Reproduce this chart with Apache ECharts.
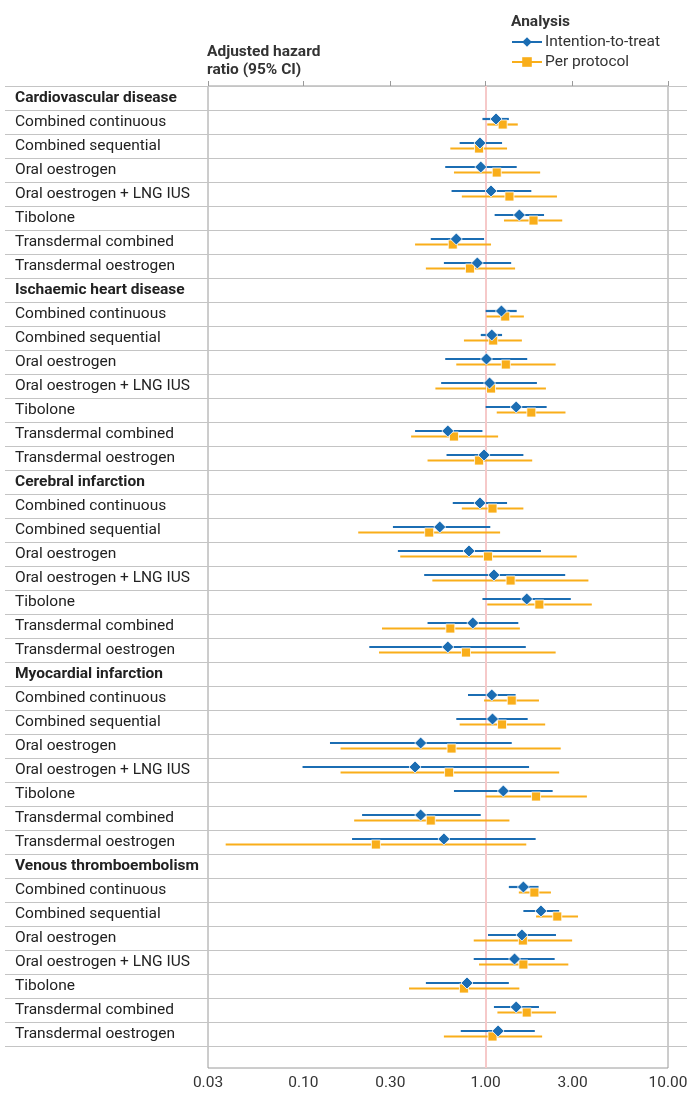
<!DOCTYPE html>
<html><head><meta charset="utf-8">
<script src="https://cdn.jsdelivr.net/npm/echarts@6/dist/echarts.min.js"></script>
<style>html,body{margin:0;padding:0;background:#fff}#c{width:699px;height:1095px}</style>
</head><body><div id="c"></div>
<script>
const groups = ['Cardiovascular disease','Ischaemic heart disease','Cerebral infarction','Myocardial infarction','Venous thromboembolism'];
const treatments = ['Combined continuous','Combined sequential','Oral oestrogen','Oral oestrogen + LNG IUS','Tibolone','Transdermal combined','Transdermal oestrogen'];
// Intention-to-treat (blue diamonds), 7 values per outcome group, in group order
const ittEst = [1.14,0.93,0.94,1.07,1.53,0.69,0.90, 1.22,1.08,1.01,1.05,1.47,0.62,0.98, 0.93,0.56,0.81,1.11,1.68,0.85,0.62, 1.08,1.09,0.44,0.41,1.25,0.44,0.59, 1.61,2.01,1.58,1.44,0.79,1.47,1.17];
const ittLo  = [0.96,0.72,0.60,0.65,1.12,0.50,0.59, 1.00,0.94,0.60,0.57,1.00,0.41,0.61, 0.66,0.31,0.33,0.46,0.96,0.48,0.23, 0.80,0.69,0.14,0.099,0.67,0.21,0.185, 1.34,1.61,1.03,0.86,0.47,1.11,0.73];
const ittHi  = [1.34,1.23,1.48,1.78,2.09,0.98,1.38, 1.48,1.23,1.69,1.91,2.16,0.96,1.61, 1.31,1.06,2.01,2.73,2.93,1.51,1.66, 1.46,1.70,1.39,1.73,2.33,0.94,1.88, 1.95,2.53,2.43,2.39,1.34,1.96,1.86];
// Per protocol (orange squares)
const ppEst = [1.24,0.92,1.15,1.35,1.83,0.66,0.82, 1.28,1.10,1.29,1.07,1.78,0.67,0.92, 1.09,0.49,1.03,1.37,1.97,0.64,0.78, 1.39,1.23,0.65,0.63,1.89,0.50,0.25, 1.85,2.47,1.60,1.61,0.76,1.68,1.09];
const ppLo  = [1.02,0.64,0.67,0.74,1.26,0.41,0.47, 1.01,0.76,0.69,0.53,1.15,0.39,0.48, 0.74,0.20,0.34,0.51,1.02,0.27,0.26, 0.98,0.72,0.16,0.16,1.00,0.19,0.0375, 1.52,1.89,0.86,0.92,0.38,1.16,0.59];
const ppHi  = [1.50,1.31,1.99,2.46,2.63,1.07,1.45, 1.62,1.58,2.42,2.14,2.74,1.17,1.80, 1.61,1.20,3.16,3.66,3.82,1.54,2.42, 1.96,2.12,2.58,2.53,3.59,1.35,1.67, 2.28,3.21,2.98,2.84,1.53,2.43,2.04];
const xTicks = [0.03,0.1,0.3,1,3,10];
const seriesNames = ['Intention-to-treat','Per protocol'];

const BLUE = '#1b6db3', ORANGE = '#f9ae1a';
const ROWH = 24, TOP = 86, BOTTOM_Y = 1068;

// rows: header + treatments per group
const rows = [], headerIdx = new Set(), rowOf = [];
groups.forEach((g, gi) => {
  headerIdx.add(rows.length); rows.push(g);
  treatments.forEach(t => { rowOf.push(rows.length); rows.push(t); });
});

function barData(lo, hi, off) {
  return lo.map((v, i) => [v, hi[i], rowOf[i] + 0.5 + off]);
}
function ptData(est, off) {
  return est.map((v, i) => [v, rowOf[i] + 0.5 + off]);
}
function barSeries(name, lo, hi, off, color) {
  return {
    type: 'custom', name, xAxisIndex: 1, yAxisIndex: 1, z: 3,
    data: barData(lo, hi, off),
    encode: { x: [0, 1], y: 2 },
    renderItem: (params, api) => {
      const a = api.coord([api.value(0), api.value(2)]);
      const b = api.coord([api.value(1), api.value(2)]);
      return { type: 'line', shape: { x1: a[0], y1: a[1], x2: b[0], y2: b[1] },
        style: { stroke: color, lineWidth: 2.2 } };
    },
    silent: true
  };
}
const OFF_ITT = -3 / ROWH, OFF_PP = 2.5 / ROWH;
const yMax = (BOTTOM_Y - TOP) / ROWH;
const FONT = 'Roboto';
const FS = 15.5;

const chart = echarts.init(document.getElementById('c'), null, { renderer: 'canvas' });
chart.setOption({
  animation: false,
  backgroundColor: '#fff',
  textStyle: { fontFamily: FONT },
  title: [
    { text: 'Adjusted hazard\nratio (95% CI)', left: 207, top: 43, padding: 0,
      textStyle: { fontFamily: FONT, fontSize: FS, fontWeight: 'bold', color: '#333', lineHeight: 18 } },
    { text: 'Analysis', left: 511, top: 14, padding: 0,
      textStyle: { fontFamily: FONT, fontSize: FS, fontWeight: 'bold', color: '#333' } }
  ],
  legend: {
    data: seriesNames, orient: 'vertical', left: 511, top: 34, itemGap: 4, padding: 0,
    itemWidth: 30, itemHeight: 12,
    textStyle: { fontFamily: FONT, fontSize: FS, color: '#333', padding: [0, 0, 0, -2] }
  },
  grid: [
    { left: 5, right: 12, top: TOP, height: ROWH * rows.length, show: false },
    { left: 208, right: 31, top: TOP, bottom: 1095 - BOTTOM_Y, show: true,
      borderColor: '#9a9a9a', borderWidth: 1, backgroundColor: 'transparent' }
  ],
  xAxis: [
    { gridIndex: 0, type: 'value', show: false, min: 0, max: 1 },
    { gridIndex: 1, type: 'log', logBase: 10, min: 0.03, max: 10,
      axisLine: { show: false },
      axisTick: { show: true, inside: true, length: 5, customValues: xTicks, lineStyle: { color: '#9a9a9a' } },
      axisLabel: { customValues: xTicks, formatter: v => Number(v).toFixed(2), fontFamily: FONT,
        fontSize: FS, color: '#333', margin: 7 },
      splitLine: { show: false } }
  ],
  yAxis: [
    { gridIndex: 0, type: 'category', inverse: true, data: rows.map((r, i) => String(i)),
      axisLine: { show: false }, axisTick: { show: false },
      splitLine: { show: true, lineStyle: { color: '#c4c4c4', width: 1 } },
      axisLabel: { inside: true, margin: 10, interval: 0,
        formatter: (v) => { const i = +v; return (headerIdx.has(i) ? '{h|' : '{n|') + rows[i] + '}'; },
        rich: {
          h: { fontFamily: FONT, fontSize: FS, fontWeight: 'bold', color: '#222' },
          n: { fontFamily: FONT, fontSize: FS, color: '#222' }
        } } },
    { gridIndex: 1, type: 'value', inverse: true, min: 0, max: yMax, show: false }
  ],
  series: [
    Object.assign(barSeries('ittBars', ittLo, ittHi, OFF_ITT, BLUE), {
      markLine: { silent: true, symbol: 'none', z: 1, label: { show: false },
        lineStyle: { color: '#f6c9c9', width: 2, type: 'solid' }, data: [{ xAxis: 1 }] }
    }),
    barSeries('ppBars', ppLo, ppHi, OFF_PP, ORANGE),
    { type: 'scatter', name: 'ppPts', xAxisIndex: 1, yAxisIndex: 1, z: 5, symbol: 'rect', symbolSize: 9,
      itemStyle: { color: ORANGE, borderColor: '#fff', borderWidth: 0.8, opacity: 1 }, data: ptData(ppEst, OFF_PP) },
    { type: 'scatter', name: 'ittPts', xAxisIndex: 1, yAxisIndex: 1, z: 6, symbol: 'diamond', symbolSize: 12,
      itemStyle: { color: BLUE, borderColor: '#fff', borderWidth: 0.8, opacity: 1 }, data: ptData(ittEst, OFF_ITT) },
    // legend-only line series
    { type: 'line', name: seriesNames[0], xAxisIndex: 1, yAxisIndex: 1, data: [], symbol: 'diamond', symbolSize: 10,
      itemStyle: { color: BLUE }, lineStyle: { color: BLUE, width: 2.2 } },
    { type: 'line', name: seriesNames[1], xAxisIndex: 1, yAxisIndex: 1, data: [], symbol: 'rect', symbolSize: 8,
      itemStyle: { color: ORANGE }, lineStyle: { color: ORANGE, width: 2.2 } }
  ]
});
</script></body></html>
